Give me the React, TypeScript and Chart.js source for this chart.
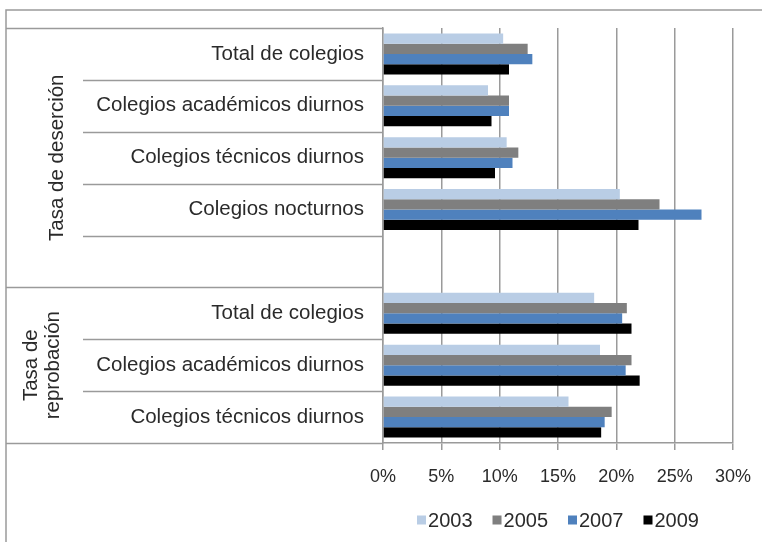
import React, { useEffect, useRef } from 'react';
import { Chart, registerables } from 'chart.js';

Chart.register(...registerables);

const categories = [
  'Total de colegios',
  'Colegios académicos diurnos',
  'Colegios técnicos diurnos',
  'Colegios nocturnos',
  '',
  'Total de colegios',
  'Colegios académicos diurnos',
  'Colegios técnicos diurnos',
];
const groupLabels = [['Tasa de deserción'], ['Tasa de', 'reprobación']];
const groupStarts = [0, 5];
const groupEnds = [4, 7];
const years = ['2003', '2005', '2007', '2009'];
const colors = ['#b9cde5', '#7f7f7f', '#4f81bd', '#000000'];
const v2003 = [10.3, 9.0, 10.6, 20.3, null, 18.1, 18.6, 15.9];
const v2005 = [12.4, 10.8, 11.6, 23.7, null, 20.9, 21.3, 19.6];
const v2007 = [12.8, 10.8, 11.1, 27.3, null, 20.5, 20.8, 19.0];
const v2009 = [10.8, 9.3, 9.6, 21.9, null, 21.3, 22.0, 18.7];
const xMin = 0;
const xMax = 30;
const xStep = 5;

const FONT = "'Liberation Sans', Arial, sans-serif";
const LINE = '#9a9a9a';
const TEXT = '#2a2a2a';

const framePlugin = {
  id: 'framePlugin',
  beforeDraw(chart: any) {
    const ctx = chart.ctx;
    ctx.save();
    ctx.fillStyle = '#ffffff';
    ctx.fillRect(0, 0, chart.width, chart.height);
    ctx.restore();
  },
  afterDraw(chart: any) {
    const ctx = chart.ctx;
    const y = chart.scales.y;
    const area = chart.chartArea;
    const n = categories.length;
    const step = (y.bottom - y.top) / n;
    const frameX = 6;
    const frameY = 10;
    const innerX = 83;
    ctx.save();
    ctx.strokeStyle = LINE;
    ctx.lineWidth = 1.5;
    // outer frame
    ctx.beginPath();
    ctx.moveTo(frameX, chart.height);
    ctx.lineTo(frameX, frameY);
    ctx.lineTo(chart.width, frameY);
    ctx.stroke();
    // category separators
    for (let i = 0; i <= n; i++) {
      const py = Math.round(y.top + i * step) + 0.5;
      const isGroupEdge = i === 0 || i === n || groupStarts.includes(i);
      ctx.beginPath();
      ctx.moveTo(isGroupEdge ? frameX : innerX, py);
      ctx.lineTo(area.left, py);
      ctx.stroke();
    }
    // group labels
    ctx.fillStyle = TEXT;
    ctx.font = `20.5px ${FONT}`;
    ctx.textAlign = 'center';
    ctx.textBaseline = 'middle';
    groupLabels.forEach((lines, g) => {
      const top = y.top + groupStarts[g] * step;
      const bottom = y.top + (groupEnds[g] + 1) * step;
      const cy = (top + bottom) / 2;
      const lh = 22;
      const cx = lines.length > 1 ? 42 - ((lines.length - 1) * lh) / 2 : 57;
      lines.forEach((t, k) => {
        ctx.save();
        ctx.translate(cx + k * lh, cy);
        ctx.rotate(-Math.PI / 2);
        ctx.fillText(t, 0, 0);
        ctx.restore();
      });
    });
    // legend
    ctx.font = `20px ${FONT}`;
    ctx.textAlign = 'left';
    const box = 9;
    const gapBox = 2;
    const gapItem = 20;
    const widths = years.map((t) => ctx.measureText(t).width);
    const total = widths.reduce((a, w) => a + box + gapBox + w, 0) + gapItem * (years.length - 1);
    let lx = (area.left + area.right) / 2 - total / 2;
    const ly = 520;
    years.forEach((t, i) => {
      ctx.fillStyle = colors[i];
      ctx.fillRect(lx, ly - box / 2, box, box);
      lx += box + gapBox;
      ctx.fillStyle = TEXT;
      ctx.fillText(t, lx, ly + 1);
      lx += widths[i] + gapItem;
    });
    ctx.restore();
  },
};

export default function App() {
  const ref = useRef<HTMLCanvasElement | null>(null);
  useEffect(() => {
    document.body.style.margin = '0';
    const canvas = ref.current;
    if (!canvas) return;
    const series = [v2003, v2005, v2007, v2009];
    const chart = new Chart(canvas, {
      type: 'bar',
      data: {
        labels: categories,
        datasets: years.map((yr, i) => ({
          label: yr,
          data: series[i] as any,
          backgroundColor: colors[i],
          borderWidth: 0,
          barPercentage: 1,
          categoryPercentage: 0.79,
        })),
      },
      options: {
        indexAxis: 'y',
        responsive: false,
        animation: false,
        devicePixelRatio: 1,
        layout: { padding: { top: 28, right: 29, left: 0, bottom: 0 } },
        plugins: {
          legend: { display: false },
          tooltip: { enabled: false },
        },
        scales: {
          x: {
            min: xMin,
            max: xMax,
            afterFit: (s: any) => {
              s.height = 99;
              s.paddingLeft = 0;
              s.paddingRight = 0;
            },
            ticks: {
              stepSize: xStep,
              callback: (v: any) => `${v}%`,
              font: { family: FONT, size: 18 },
              color: TEXT,
              padding: 16,
              maxRotation: 0,
            },
            grid: {
              color: LINE,
              lineWidth: 1.5,
              tickLength: 7,
              drawTicks: true,
            },
            border: { display: true, color: LINE, width: 1.5 },
          },
          y: {
            afterFit: (s: any) => {
              s.width = 383;
              s.paddingTop = 0;
              s.paddingBottom = 0;
            },
            ticks: {
              autoSkip: false,
              font: { family: FONT, size: 20.5 },
              color: TEXT,
              padding: 19,
            },
            grid: { display: false, drawTicks: false },
            border: { display: true, color: LINE, width: 1.5 },
          },
        },
      },
      plugins: [framePlugin],
    });
    return () => chart.destroy();
  }, []);
  return (
    <div style={{ position: 'absolute', left: 0, top: 0, width: 762, height: 542 }}>
      <canvas ref={ref} width={762} height={542} />
    </div>
  );
}
